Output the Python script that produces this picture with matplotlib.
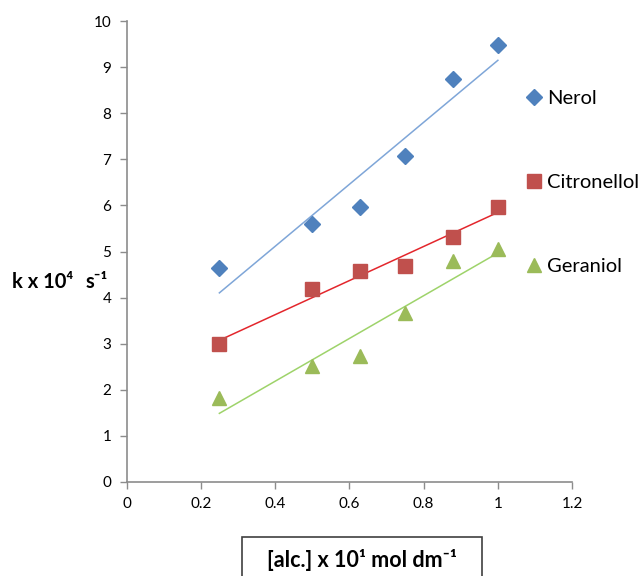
import numpy as np
import matplotlib.pyplot as plt
from matplotlib.patches import Rectangle

# concentrations [alc.] x 10^1 mol dm^-1
conc = [0.25, 0.50, 0.63, 0.75, 0.88, 1.00]

# k x 10^4 s^-1
nerol = [4.64, 5.59, 5.97, 7.07, 8.74, 9.49]
citronellol = [2.99, 4.19, 4.58, 4.69, 5.31, 5.97]
geraniol = [1.82, 2.52, 2.73, 3.66, 4.80, 5.05]

series = [
    ("Nerol", nerol, "D", 8, "#4F81BD", "#7FA6D8"),
    ("Citronellol", citronellol, "s", 10, "#C0504D", "#E3262C"),
    ("Geraniol", geraniol, "^", 10, "#9BBB59", "#9ED36A"),
]

plt.rcParams['font.family'] = ['Lato', 'DejaVu Sans']

fig = plt.figure(figsize=(6.4, 5.76), dpi=100)
ax = fig.add_axes([0.1977, 0.1632, 0.6963, 0.8003])

x = np.array(conc)
for name, vals, mk, ms, col, lcol in series:
    ax.plot(conc, vals, linestyle='none', marker=mk, markersize=ms,
            color=col, label=name, clip_on=False, zorder=3)
    # linear trend line
    slope, icpt = np.polyfit(x, vals, 1)
    ax.plot(x[[0, -1]], slope * x[[0, -1]] + icpt, color=lcol, linewidth=1.1, zorder=2)

ax.set_xlim(0, 1.2)
ax.set_ylim(0, 10)
ax.set_xticks([0, 0.2, 0.4, 0.6, 0.8, 1.0, 1.2])
ax.set_xticklabels(["0", "0.2", "0.4", "0.6", "0.8", "1", "1.2"])
ax.set_yticks(range(0, 11))

for s in ['top', 'right']:
    ax.spines[s].set_visible(False)
for s in ['left', 'bottom']:
    ax.spines[s].set_color('#8C8C8C')
    ax.spines[s].set_linewidth(1.2)
ax.tick_params(direction='out', length=5, width=1, color='#8C8C8C',
               labelsize=11, labelcolor='black', pad=6)

leg = ax.legend(loc='upper left', bbox_to_anchor=(0.882, 0.567, 0.1, 0.3),
                frameon=False, handlelength=0.6, handletextpad=0.35,
                labelspacing=3.3, fontsize=14.5, borderaxespad=0)
leg.set_clip_on(False)

# y axis title, placed like the original (horizontal, left of the ticks)
fig.text(0.019, 0.51, "k x 10\u2074", fontsize=14.5,
         fontweight='bold', ha='left', va='center')
fig.text(0.134, 0.51, "s\u207b\u00b9", fontsize=14.5,
         fontweight='bold', ha='left', va='center')

fig.patches.append(Rectangle((0.378, -0.01), 0.375, 0.078, transform=fig.transFigure,
                             fill=False, edgecolor='#404040', linewidth=1.2))
fig.text(0.565, 0.027, "[alc.] x 10\u00b9 mol dm\u207b\u00b9", fontsize=15.5,
         fontweight='bold', ha='center', va='center')

fig.savefig("out.png", dpi=100)
